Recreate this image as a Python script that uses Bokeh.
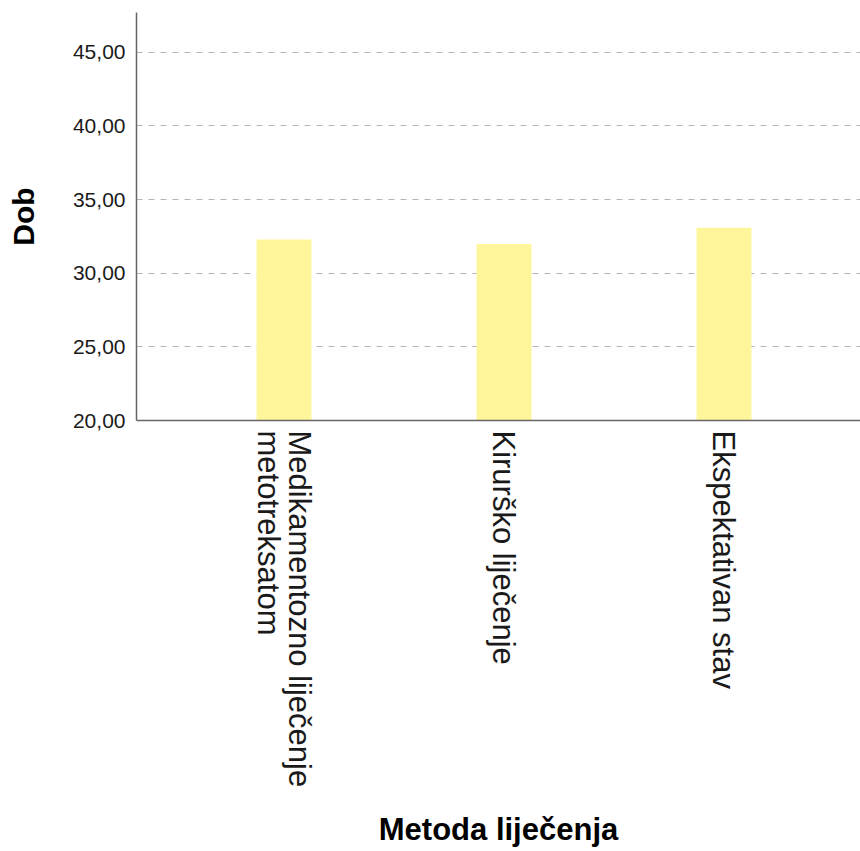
import math
from bokeh.plotting import figure
from bokeh.models import Range1d, FixedTicker, ColumnDataSource
from bokeh.embed import file_html
from bokeh.resources import INLINE

categories = ["Medikamentozno liječenje\nmetotreksatom", "Kirurško liječenje", "Ekspektativan stav"]
mean_age = [32.28, 31.98, 33.09]
y_ticks = [20, 25, 30, 35, 40, 45]
y_tick_labels = ["20,00", "25,00", "30,00", "35,00", "40,00", "45,00"]

x_pos = list(range(len(categories)))
source = ColumnDataSource(data=dict(x=x_pos, cat=categories, val=mean_age))

p = figure(
    x_range=Range1d(-0.6705, 2.6205),
    y_range=Range1d(20, 47.7),
    frame_width=724, frame_height=408,
    min_border_left=136, min_border_right=0, min_border_top=12, min_border_bottom=431,
    output_backend="svg", toolbar_location=None,
)
p.vbar(x="x", top="val", bottom=20, width=0.25, source=source,
       fill_color="#FFF59B", line_color=None)

p.outline_line_color = None
p.background_fill_color = "white"
p.border_fill_color = "white"

p.xgrid.grid_line_color = None
p.ygrid.ticker = FixedTicker(ticks=y_ticks[1:])
p.ygrid.grid_line_color = "#B5B5B5"
p.ygrid.grid_line_dash = "6 6"
p.ygrid.grid_line_width = 1.2

p.yaxis.ticker = FixedTicker(ticks=y_ticks)
p.yaxis.major_label_overrides = {t: l for t, l in zip(y_ticks, y_tick_labels)}
p.yaxis.major_tick_line_color = None
p.yaxis.minor_tick_line_color = None
p.yaxis.major_tick_out = 0
p.yaxis.major_tick_in = 0
p.yaxis.major_label_standoff = 11
p.yaxis.major_label_text_font = "Liberation Sans"
p.yaxis.major_label_text_font_size = "21px"
p.yaxis.major_label_text_color = "#1a1a1a"
p.yaxis.axis_label = "Dob"
p.yaxis.axis_label_text_font = "Liberation Sans"
p.yaxis.axis_label_text_font_style = "bold"
p.yaxis.axis_label_text_font_size = "30px"
p.yaxis.axis_label_standoff = 30
p.yaxis.axis_label_text_color = "black"

p.xaxis.ticker = FixedTicker(ticks=x_pos)
p.xaxis.major_label_overrides = {i: c for i, c in zip(x_pos, categories)}
p.xaxis.major_tick_line_color = None
p.xaxis.minor_tick_line_color = None
p.xaxis.major_tick_out = 0
p.xaxis.major_tick_in = 0
p.xaxis.major_label_standoff = 10
p.xaxis.major_label_orientation = -math.pi / 2
p.xaxis.major_label_text_font = "Liberation Sans"
p.xaxis.major_label_text_font_size = "31px"
p.xaxis.major_label_text_line_height = 0.86
p.xaxis.major_label_text_color = "#1a1a1a"
p.xaxis.axis_label = "Metoda liječenja"
p.xaxis.axis_label_text_font = "Liberation Sans"
p.xaxis.axis_label_text_font_style = "bold"
p.xaxis.axis_label_text_font_size = "31px"
p.xaxis.axis_label_standoff = 22
p.xaxis.axis_label_text_color = "black"

for ax in (p.xaxis, p.yaxis):
    ax.axis_line_color = "#666666"
    ax.axis_line_width = 1.5

open("out.html", "w").write(file_html(p, INLINE))
